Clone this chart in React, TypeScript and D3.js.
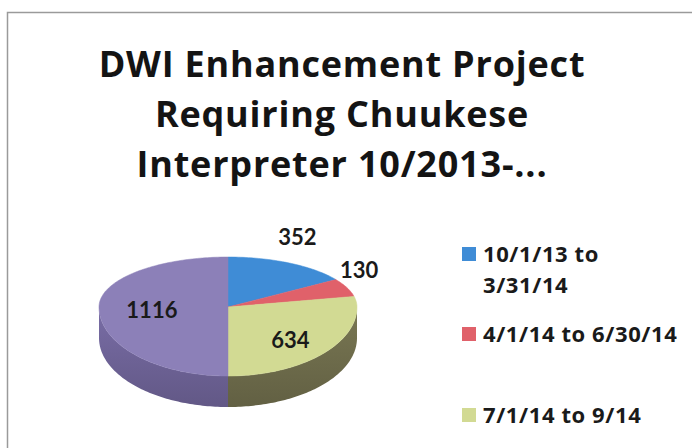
import React from "react";
import * as d3 from "d3";

// ---- data ----
const categories = ["10/1/13 to 3/31/14", "4/1/14 to 6/30/14", "7/1/14 to 9/14", "Other"];
const values = [352, 130, 634, 1116];
const legendLines = [["10/1/13 to", "3/31/14"], ["4/1/14 to 6/30/14"], ["7/1/14 to 9/14"]];
const titleLines = ["DWI Enhancement Project", "Requiring Chuukese", "Interpreter 10/2013-..."];

// ---- style ----
const topColors = ["#3f8cd6", "#e0616a", "#d2da93", "#8c80b8"];
const sideColors = ["#2f6aa3", "#a8474e", "#6f6d4c", "#6f6498"];
const FONT = "'Open Sans', Lato, sans-serif";
const LFONT = "Lato, 'Open Sans', sans-serif";

const W = 692, H = 448;
const cx = 228, cy = 307, rx = 129, ryTop = 50, ryBot = 69, depth = 31;

function proj(a: number, f = 1, dz = 0): [number, number] {
  const s = Math.sin(a), c = Math.cos(a);
  const ry = c > 0 ? ryTop : ryBot;
  return [cx + rx * f * s, cy - ry * f * c + dz];
}

function arcPts(a0: number, a1: number, dz = 0): [number, number][] {
  const n = Math.max(2, Math.ceil(Math.abs(a1 - a0) / 0.02));
  const pts: [number, number][] = [];
  for (let i = 0; i <= n; i++) pts.push(proj(a0 + ((a1 - a0) * i) / n, 1, dz));
  return pts;
}

const line = d3.line();

export default function App() {
  const arcs = d3.pie<number>().sort(null).startAngle(0).endAngle(2 * Math.PI)(values);

  const sides = arcs
    .map((a, i) => {
      const s = Math.max(a.startAngle, Math.PI / 2);
      const e = Math.min(a.endAngle, (3 * Math.PI) / 2);
      if (e <= s) return null;
      const top = arcPts(s, e);
      const bot = arcPts(e, s, depth);
      return { i, d: line([...top, ...bot])! + "Z" };
    })
    .filter(Boolean) as { i: number; d: string }[];

  const tops = arcs.map((a, i) => {
    const pts: [number, number][] = [[cx, cy], ...arcPts(a.startAngle, a.endAngle)];
    return { i, d: line(pts)! + "Z" };
  });

  // label placement (radius factor, dx, dy)
  const labelPlace: [number, number, number][] = [
    [1.13, 0, -20],
    [1.12, -2, -15],
    [0.62, 0, 6],
    [0.59, 0, 3],
  ];

  const legendY = [[262, 293], [342], [423]];
  const legendSqY = [247, 327, 408];

  return (
    <svg width={W} height={H} style={{ position: "absolute", left: 0, top: 0, background: "#fff" }}>
      <defs>
        {sideColors.map((c, i) => (
          <linearGradient key={i} id={`side${i}`} x1="0" y1="0" x2="0" y2="1">
            <stop offset="0" stopColor={d3.color(c)!.brighter(0.25).toString()} />
            <stop offset="1" stopColor={d3.color(c)!.darker(0.35).toString()} />
          </linearGradient>
        ))}
      </defs>
      <rect x={0} y={0} width={W} height={H} fill="#fff" />
      <path d={`M7.5,${H} L7.5,12.5 L${W},12.5`} fill="none" stroke="#9a9a9a" strokeWidth={1.5} />

      {titleLines.map((t, i) => (
        <text key={i} x={342} y={77 + i * 50} textAnchor="middle" fontFamily={FONT} fontWeight={700}
          fontSize={36} letterSpacing={0.8} fill="#141414">{t}</text>
      ))}

      {sides.map((s) => (
        <path key={`s${s.i}`} d={s.d} fill={`url(#side${s.i})`} stroke="none" />
      ))}
      {tops.map((t) => (
        <path key={`t${t.i}`} d={t.d} fill={topColors[t.i]} stroke={topColors[t.i]} strokeWidth={0.5} />
      ))}

      {arcs.map((a, i) => {
        const mid = (a.startAngle + a.endAngle) / 2;
        const [f, dx, dy] = labelPlace[i];
        const p = proj(mid, f);
        return (
          <text key={`l${i}`} x={p[0] + dx} y={p[1] + dy} dy="0.36em" textAnchor="middle" fontFamily={LFONT}
            fontWeight={700} fontSize={22} fill="#1a1a1a">{values[i]}</text>
        );
      })}

      {legendLines.map((lines, i) => (
        <g key={`lg${i}`}>
          <rect x={462} y={legendSqY[i]} width={14} height={14} fill={topColors[i]} />
          {lines.map((ln, j) => (
            <text key={j} x={483} y={legendY[i][j]} fontFamily={FONT} fontWeight={700} fontSize={22}
              letterSpacing={0.6} fill="#1a1a1a">{ln}</text>
          ))}
        </g>
      ))}
    </svg>
  );
}
